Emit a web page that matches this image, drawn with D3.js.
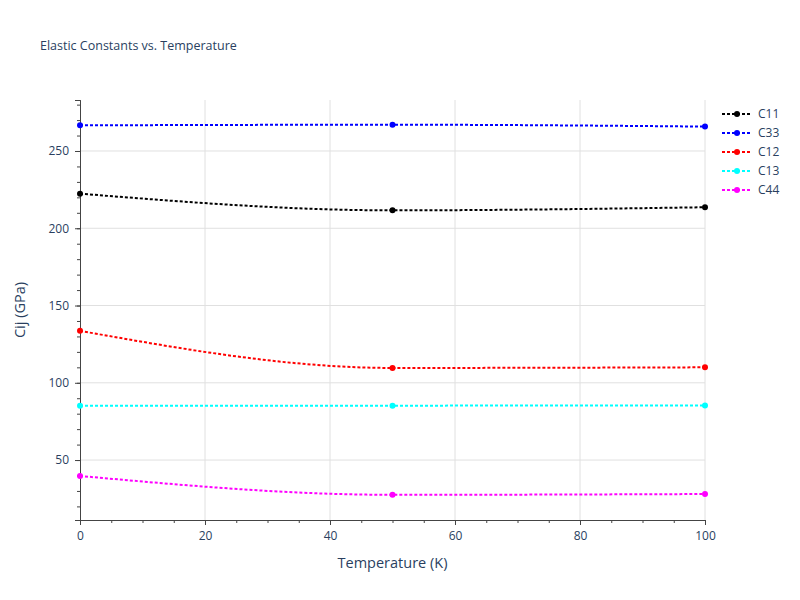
<!DOCTYPE html>
<html><head><meta charset="utf-8">
<script src="https://cdn.jsdelivr.net/npm/d3@7"></script>
<style>body{margin:0;background:#fff;font-family:"Open Sans",sans-serif;}</style>
</head><body><div id="chart"></div>
<script>
// Data
var temps = [0, 50, 100];
var names = ["C11", "C33", "C12", "C13", "C44"];
var colors = ["black", "blue", "red", "cyan", "magenta"];
var c11 = [222.4, 211.6, 213.6];
var c33 = [266.6, 267.0, 265.8];
var c12 = [133.6, 109.6, 110.0];
var c13 = [85.1, 85.2, 85.3];
var c44 = [39.7, 27.5, 28.0];
var seriesValues = [c11, c33, c12, c13, c44];
var xTicks = [0, 20, 40, 60, 80, 100];
var yTicks = [50, 100, 150, 200, 250];

var svgWidth = 800, svgHeight = 600;
var margin = {top: 100, right: 95, bottom: 80, left: 80};
var width = svgWidth - margin.left - margin.right;
var height = svgHeight - margin.top - margin.bottom;

var svg = d3.select("#chart").append("svg")
  .attr("width", svgWidth).attr("height", svgHeight);
var g = svg.append("g").attr("transform", `translate(${margin.left},${margin.top})`);

var x = d3.scaleLinear().domain([0, 100]).range([0, width]);
var y = d3.scaleLinear().domain([11.2, 283]).range([height, 0]);

// grid
g.selectAll(".gx").data(xTicks.slice(1)).enter().append("line")
  .attr("x1", d => x(d)).attr("x2", d => x(d)).attr("y1", 0).attr("y2", height)
  .attr("stroke", "#e0e0e0");
g.selectAll(".gy").data(yTicks).enter().append("line")
  .attr("x1", 0).attr("x2", width).attr("y1", d => y(d)).attr("y2", d => y(d))
  .attr("stroke", "#e0e0e0");

// axes
var xAxis = g.append("g").attr("transform", `translate(0,${height})`)
  .call(d3.axisBottom(x).tickValues(xTicks).tickSize(5).tickPadding(6));
var xMinor = g.append("g").attr("transform", `translate(0,${height})`)
  .call(d3.axisBottom(x).tickValues(d3.range(0, 101, 5)).tickSize(3).tickFormat(""));
var yAxis = g.append("g")
  .call(d3.axisLeft(y).tickValues(yTicks).tickSize(5).tickPadding(6));
var yMinor = g.append("g")
  .call(d3.axisLeft(y).tickValues(d3.range(20, 281, 10)).tickSize(3).tickFormat(""));
[xAxis, yAxis, xMinor, yMinor].forEach(a => {
  a.select(".domain").attr("stroke", "#444");
  a.selectAll("line").attr("stroke", "#444");
  a.selectAll("text").attr("fill", "#2a3f5f").style("font-size", "12px").style("font-family", "Open Sans, sans-serif");
});

// lines
var line = d3.line().x(d => x(d[0])).y(d => y(d[1])).curve(d3.curveMonotoneX);
seriesValues.forEach(function(vals, i) {
  var pts = temps.map((t, j) => [t, vals[j]]);
  g.append("path").attr("d", line(pts)).attr("fill", "none")
    .attr("stroke", colors[i]).attr("stroke-width", 2).attr("stroke-dasharray", "3,2");
  g.selectAll(".p" + i).data(pts).enter().append("circle")
    .attr("cx", d => x(d[0])).attr("cy", d => y(d[1])).attr("r", 3).attr("fill", colors[i]);
});

// titles
svg.append("text").attr("x", 40).attr("y", 50).text("Elastic Constants vs. Temperature")
  .attr("fill", "#2a3f5f").style("font-size", "12.5px");
svg.append("text").attr("x", margin.left + width / 2).attr("y", 568).attr("text-anchor", "middle")
  .text("Temperature (K)").attr("fill", "#2a3f5f").style("font-size", "14.5px");
svg.append("text").attr("transform", `translate(25,${margin.top + height / 2}) rotate(-90)`)
  .attr("text-anchor", "middle").text("Cij (GPa)").attr("fill", "#2a3f5f").style("font-size", "14.5px");

// legend
var leg = svg.append("g").attr("transform", "translate(722,114)");
names.forEach(function(n, i) {
  var r = leg.append("g").attr("transform", `translate(0,${i * 19})`);
  r.append("line").attr("x1", 0).attr("x2", 30).attr("stroke", colors[i])
    .attr("stroke-width", 2).attr("stroke-dasharray", "3,2");
  r.append("circle").attr("cx", 15).attr("r", 3).attr("fill", colors[i]);
  r.append("text").attr("x", 36).attr("y", 4).text(n).attr("fill", "#2a3f5f").style("font-size", "12px");
});
</script></body></html>
